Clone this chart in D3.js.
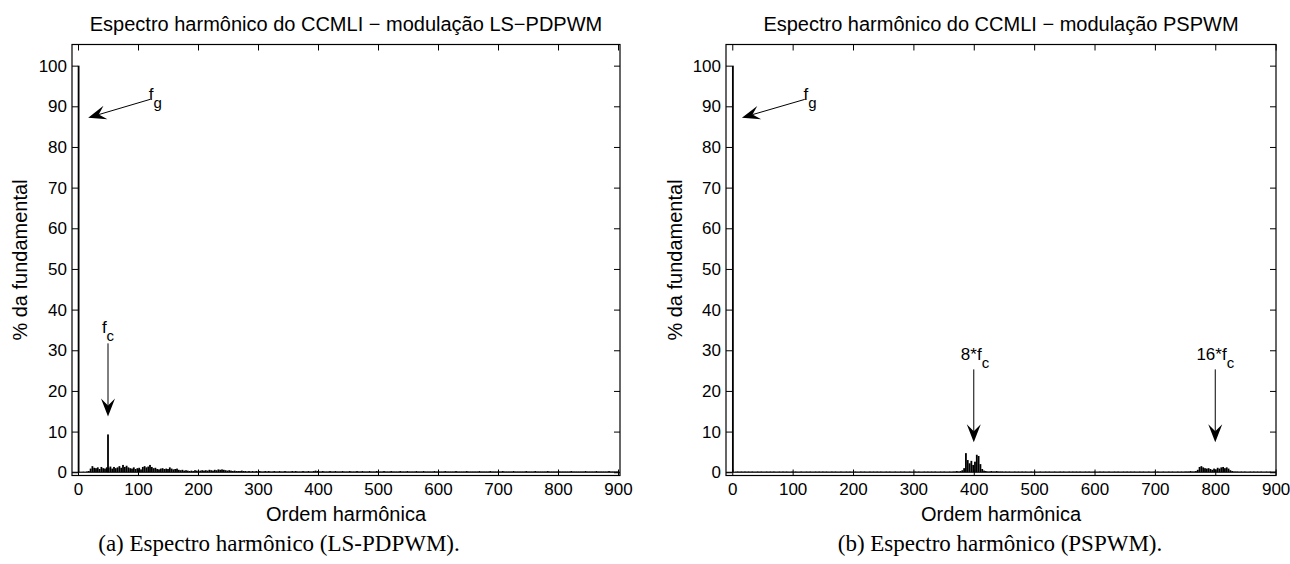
<!DOCTYPE html>
<html><head><meta charset="utf-8">
<script src="https://cdn.jsdelivr.net/npm/d3@7"></script>
<style>body{margin:0;background:#fff}svg{display:block}</style>
</head><body><svg id="c" width="1290" height="564"></svg>
<script>
// ---------- DATA ----------
const xTicks = [0,100,200,300,400,500,600,700,800,900];
const yTicks = [0,10,20,30,40,50,60,70,80,90,100];
const titles = ["Espectro harmônico do CCMLI − modulação LS−PDPWM", "Espectro harmônico do CCMLI − modulação PSPWM"];
const captions = ["(a) Espectro harmônico (LS-PDPWM).", "(b) Espectro harmônico (PSPWM)."];
const xLabel = "Ordem harmônica";
const yLabel = "% da fundamental";
const harmonicStep = 3; // spectrum values below are listed for harmonic orders 0,3,6,...,900

// LS-PDPWM: dominant harmonics
const lsPeakOrders = [1, 50];
const lsPeakValues = [100, 9.3];
// LS-PDPWM: spectrum (% of fundamental) for orders 0,3,6,...,900
const lsValues = [
 0,0.1,0.1,0.15,0.1,0.2,0.3,0.9,1.5,1.1,
 1.0,1.2,0.8,1.3,1.0,0.9,1.2,1.1,1.4,0.9,
 1.3,1.0,1.2,1.5,1.1,1.8,1.3,1.6,1.2,1.0,
 0.9,1.2,0.8,1.0,1.1,0.7,1.3,1.5,1.2,1.4,
 1.8,1.3,1.0,1.1,0.8,0.7,0.9,1.0,0.8,0.9,
 0.8,1.2,0.9,0.7,0.8,0.9,0.6,0.5,0.6,0.4,
 0.5,0.4,0.3,0.4,0.3,0.5,0.4,0.3,0.4,0.5,
 0.4,0.5,0.4,0.6,0.5,0.4,0.6,0.5,0.7,0.6,
 0.7,0.6,0.5,0.4,0.5,0.4,0.3,0.4,0.3,0.3,
 0.3,0.4,0.3,0.3,0.2,0.3,0.2,0.3,0.2,0.3,
 0.2,0.3,0.2,0.2,0.3,0.2,0.3,0.2,0.2,0.3,
 0.2,0.2,0.3,0.2,0.2,0.3,0.2,0.2,0.2,0.3,
 0.2,0.3,0.2,0.2,0.2,0.3,0.2,0.2,0.3,0.2,
 0.2,0.3,0.4,0.3,0.2,0.2,0.3,0.2,0.2,0.2,
 0.3,0.2,0.2,0.3,0.2,0.2,0.2,0.3,0.2,0.2,
 0.2,0.3,0.2,0.2,0.2,0.3,0.2,0.2,0.3,0.2,
 0.2,0.2,0.3,0.2,0.2,0.2,0.3,0.2,0.2,0.2,
 0.3,0.2,0.2,0.2,0.3,0.2,0.2,0.2,0.2,0.3,
 0.2,0.2,0.2,0.3,0.2,0.2,0.2,0.2,0.3,0.2,
 0.2,0.2,0.3,0.2,0.2,0.2,0.2,0.2,0.3,0.2,
 0.2,0.2,0.2,0.2,0.3,0.2,0.2,0.2,0.2,0.2,
 0.3,0.2,0.2,0.2,0.2,0.2,0.3,0.2,0.2,0.2,
 0.2,0.2,0.2,0.3,0.2,0.2,0.2,0.2,0.2,0.3,
 0.2,0.2,0.2,0.2,0.2,0.2,0.3,0.2,0.2,0.2,
 0.2,0.2,0.3,0.2,0.2,0.2,0.2,0.2,0.2,0.3,
 0.2,0.2,0.2,0.2,0.3,0.2,0.2,0.2,0.2,0.2,
 0.2,0.3,0.2,0.2,0.2,0.2,0.2,0.3,0.2,0.2,
 0.2,0.2,0.2,0.2,0.3,0.2,0.2,0.2,0.2,0.2,
 0.2,0.2,0.3,0.2,0.2,0.2,0.2,0.2,0.3,0.2,
 0.2,0.2,0.2,0.2,0.2,0.3,0.2,0.2,0.2,0.2,
 0.2
];

// PSPWM: dominant harmonics
const psPeakOrders = [1];
const psPeakValues = [100];
// PSPWM: spectrum (% of fundamental) for orders 0,3,6,...,900
const psValues = [
 0,0.1,0.15,0.2,0.15,0.2,0.15,0.2,0.15,0.2,
 0.15,0.2,0.15,0.15,0.2,0.15,0.2,0.15,0.15,0.2,
 0.15,0.2,0.15,0.2,0.15,0.15,0.2,0.15,0.2,0.15,
 0.2,0.15,0.15,0.2,0.15,0.2,0.15,0.15,0.2,0.15,
 0.15,0.2,0.15,0.2,0.15,0.15,0.2,0.15,0.2,0.15,
 0.2,0.15,0.2,0.15,0.15,0.2,0.15,0.2,0.15,0.15,
 0.2,0.15,0.15,0.2,0.15,0.2,0.15,0.15,0.2,0.15,
 0.15,0.2,0.15,0.2,0.15,0.15,0.2,0.15,0.2,0.15,
 0.2,0.15,0.2,0.15,0.15,0.2,0.15,0.2,0.15,0.15,
 0.2,0.15,0.15,0.2,0.15,0.2,0.15,0.15,0.2,0.15,
 0.15,0.2,0.15,0.2,0.15,0.15,0.2,0.15,0.2,0.15,
 0.2,0.15,0.2,0.15,0.15,0.2,0.15,0.2,0.15,0.15,
 0.2,0.15,0.2,0.2,0.3,0.2,0.3,0.5,1.0,4.7,
 3.0,2.2,2.8,1.8,2.6,4.3,4.0,2.0,0.8,0.4,
 0.3,0.2,0.2,0.3,0.2,0.2,0.3,0.2,0.2,0.2,
 0.15,0.2,0.15,0.2,0.15,0.15,0.2,0.15,0.2,0.15,
 0.2,0.15,0.2,0.15,0.15,0.2,0.15,0.2,0.15,0.15,
 0.2,0.15,0.15,0.2,0.15,0.2,0.15,0.15,0.2,0.15,
 0.15,0.2,0.15,0.2,0.15,0.15,0.2,0.15,0.2,0.15,
 0.2,0.15,0.2,0.15,0.15,0.2,0.15,0.2,0.15,0.15,
 0.2,0.15,0.15,0.2,0.15,0.2,0.15,0.15,0.2,0.15,
 0.15,0.2,0.15,0.2,0.15,0.15,0.2,0.15,0.2,0.15,
 0.2,0.15,0.2,0.15,0.15,0.2,0.15,0.2,0.15,0.15,
 0.2,0.15,0.15,0.2,0.15,0.2,0.15,0.15,0.2,0.15,
 0.15,0.2,0.15,0.2,0.15,0.15,0.2,0.15,0.2,0.15,
 0.2,0.2,0.2,0.3,0.2,0.2,0.3,0.6,1.3,1.5,
 1.2,1.0,0.9,1.0,0.8,0.6,0.9,0.7,1.1,0.9,
 1.2,1.3,1.0,1.2,0.9,0.5,0.3,0.2,0.2,0.2,
 0.15,0.2,0.15,0.2,0.15,0.15,0.2,0.15,0.2,0.15,
 0.2,0.15,0.2,0.15,0.15,0.2,0.15,0.2,0.15,0.15,
 0.2
];

// Annotations (data coordinates)
const lsNotes = [
  {text:"f", sub:"g", tx:118, ty:91.5, anchor:"start", from:[120,91.7], to:[17,87.2]},
  {text:"f", sub:"c", tx:50, ty:34.3, anchor:"middle", from:[50,31.7], to:[50,13.7]}
];
const psNotes = [
  {text:"f", sub:"g", tx:118, ty:91.5, anchor:"start", from:[120,91.7], to:[16,87.2]},
  {text:"8*f", sub:"c", tx:402, ty:27.6, anchor:"middle", from:[400,25.3], to:[400,7.4]},
  {text:"16*f", sub:"c", tx:800, ty:27.6, anchor:"middle", from:[800,25.3], to:[800,7.4]}
];

// ---------- DRAW ----------
const svg = d3.select("#c");
svg.append("rect").attr("width",1290).attr("height",564).attr("fill","#fff");
const sans = "Liberation Sans, Arial, Helvetica, sans-serif";
const serif = "Liberation Serif, Times New Roman, serif";

const panels = [
  {left:72, right:620, top:44.5, bottom:475.5, xDomain:[-10,903.3], peakOrders:lsPeakOrders, peakValues:lsPeakValues, values:lsValues, title:titles[0], caption:captions[0], captionX:279, yLabelX:27, notes:lsNotes},
  {left:726, right:1276, top:44.5, bottom:475.5, xDomain:[-10.4,900.6], peakOrders:psPeakOrders, peakValues:psPeakValues, values:psValues, title:titles[1], caption:captions[1], captionX:1000, yLabelX:682, notes:psNotes}
];

panels.forEach((p, pi) => {
  const x = d3.scaleLinear().domain(p.xDomain).range([p.left, p.right]);
  const y = d3.scaleLinear().domain([-0.8, 105.2]).range([p.bottom, p.top]);
  const g = svg.append("g");

  const clipId = "clip" + pi;
  svg.append("clipPath").attr("id", clipId).append("rect")
    .attr("x", p.left).attr("y", p.top).attr("width", p.right - p.left).attr("height", p.bottom - p.top);

  const spec = p.values.map((v, i) => ({h: i * harmonicStep, v}))
    .filter(d => d.v > 0)
    .concat(p.peakOrders.map((h, i) => ({h, v: p.peakValues[i]})));
  const bw = x(harmonicStep) - x(0);
  const bars = g.append("g").attr("clip-path", `url(#${clipId})`);
  bars.selectAll("rect").data(spec).join("rect")
    .attr("x", d => x(d.h) - bw / 2)
    .attr("width", bw)
    .attr("y", d => y(d.v))
    .attr("height", d => y(0) - y(d.v))
    .attr("fill", "#000");
  // baseline
  bars.append("line").attr("x1", p.left).attr("x2", p.right).attr("y1", y(0)).attr("y2", y(0))
    .attr("stroke", "#000").attr("stroke-width", 1.2);

  // axes
  const tickLen = -6;
  const styleAxis = sel => {
    sel.select(".domain").remove();
    sel.selectAll(".tick line").attr("stroke", "#000").attr("stroke-width", 1);
    sel.selectAll("text").attr("font-family", sans).attr("font-size", 17).attr("fill", "#000");
  };
  g.append("g").attr("transform", `translate(0,${p.bottom})`)
    .call(d3.axisBottom(x).tickValues(xTicks).tickSizeInner(tickLen).tickSizeOuter(0).tickPadding(7.5))
    .call(styleAxis);
  g.append("g").attr("transform", `translate(0,${p.top})`)
    .call(d3.axisTop(x).tickValues(xTicks).tickSizeInner(tickLen).tickSizeOuter(0).tickFormat(""))
    .call(styleAxis);
  g.append("g").attr("transform", `translate(${p.left},0)`)
    .call(d3.axisLeft(y).tickValues(yTicks).tickSizeInner(tickLen).tickSizeOuter(0).tickPadding(5))
    .call(styleAxis);
  g.append("g").attr("transform", `translate(${p.right},0)`)
    .call(d3.axisRight(y).tickValues(yTicks).tickSizeInner(tickLen).tickSizeOuter(0).tickFormat(""))
    .call(styleAxis);

  // frame
  g.append("rect").attr("x", p.left).attr("y", p.top)
    .attr("width", p.right - p.left).attr("height", p.bottom - p.top)
    .attr("fill", "none").attr("stroke", "#000").attr("stroke-width", 1.2);

  // title & labels
  const cx = (p.left + p.right) / 2;
  g.append("text").attr("x", cx).attr("y", 31).attr("text-anchor", "middle")
    .attr("font-family", sans).attr("font-size", 20).text(p.title);
  g.append("text").attr("x", cx).attr("y", 521).attr("text-anchor", "middle")
    .attr("font-family", sans).attr("font-size", 20).text(xLabel);
  g.append("text").attr("transform", `translate(${p.yLabelX},${(p.top + p.bottom) / 2}) rotate(-90)`)
    .attr("text-anchor", "middle").attr("font-family", sans).attr("font-size", 20).text(yLabel);
  g.append("text").attr("x", p.captionX).attr("y", 551).attr("text-anchor", "middle")
    .attr("font-family", serif).attr("font-size", 23).text(p.caption);

  // annotations
  p.notes.forEach(n => {
    const t = g.append("text").attr("x", x(n.tx)).attr("y", y(n.ty)).attr("text-anchor", n.anchor)
      .attr("font-family", sans).attr("font-size", 17);
    t.append("tspan").text(n.text);
    t.append("tspan").attr("dy", 8).attr("font-size", 15).text(n.sub);

    const x0 = x(n.from[0]), y0 = y(n.from[1]), x1 = x(n.to[0]), y1 = y(n.to[1]);
    const ang = Math.atan2(y1 - y0, x1 - x0);
    const L = 18, W = 14, N = 7;
    const bx = x1 - (L - N) * Math.cos(ang), by = y1 - (L - N) * Math.sin(ang);
    g.append("line").attr("x1", x0).attr("y1", y0).attr("x2", bx).attr("y2", by)
      .attr("stroke", "#000").attr("stroke-width", 1);
    g.append("polygon")
      .attr("points", `0,0 ${-L},${-W/2} ${-L+N},0 ${-L},${W/2}`)
      .attr("transform", `translate(${x1},${y1}) rotate(${ang * 180 / Math.PI})`)
      .attr("fill", "#000");
  });
});
</script>
</body></html>
